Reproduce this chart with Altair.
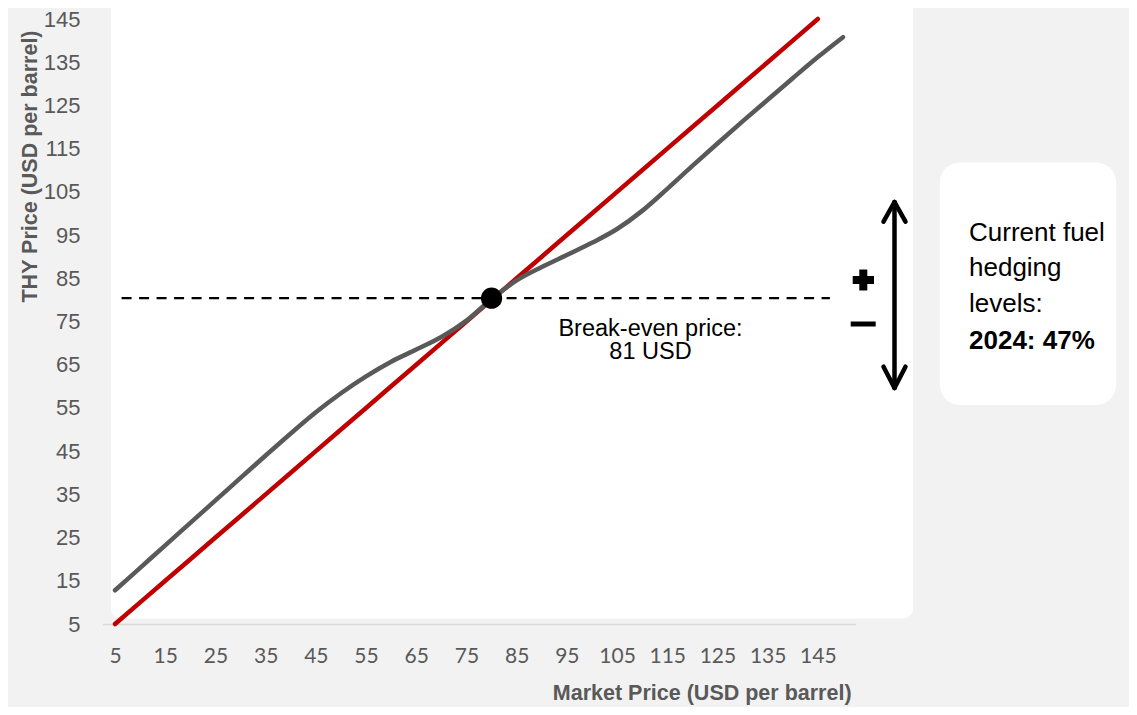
import altair as alt
import pandas as pd

# ---- data ----
market_price = [5, 10, 15, 20, 25, 30, 35, 40, 45, 50, 55, 60, 65, 70, 75,
                80, 85, 90, 95, 100, 105, 110, 115, 120, 125, 130, 135, 140, 145, 150]
thy_price = [12.8, 18.0, 23.2, 28.4, 33.6, 38.8, 44.0, 49.1, 54.0, 58.4, 62.3, 65.7, 68.5, 71.4, 75.2,
             80.2, 84.5, 87.6, 90.4, 93.2, 96.4, 100.6, 105.7, 111.0, 116.2, 121.3, 126.3, 131.3, 136.2, 140.8]
unhedged_x = [5, 10, 15, 20, 25, 30, 35, 40, 45, 50, 55, 60, 65, 70, 75,
              80, 85, 90, 95, 100, 105, 110, 115, 120, 125, 130, 135, 140, 145]
unhedged_y = [5, 10, 15, 20, 25, 30, 35, 40, 45, 50, 55, 60, 65, 70, 75,
              80, 85, 90, 95, 100, 105, 110, 115, 120, 125, 130, 135, 140, 145]
x_tick_values = [5, 15, 25, 35, 45, 55, 65, 75, 85, 95, 105, 115, 125, 135, 145]
y_tick_values = [5, 15, 25, 35, 45, 55, 65, 75, 85, 95, 105, 115, 125, 135, 145]
breakeven_x = [80]
breakeven_y = [80.4]
dash_start = [6.3]
dash_end = [147.4]
box_lines = ["Current fuel", "hedging", "levels:", "2024: 47%"]

gray_df = pd.DataFrame({"market": market_price, "thy": thy_price})
red_df = pd.DataFrame({"market": unhedged_x, "thy": unhedged_y})
be_df = pd.DataFrame({"market": breakeven_x, "thy": breakeven_y})
dash_df = pd.DataFrame({"market": dash_start, "market_end": dash_end, "thy": breakeven_y})
dummy = pd.DataFrame({"a": [0]})

FONT = "Liberation Sans"
GRAY_TXT = "#595959"

TOP = 11.0          # chart-space y of the plot top
H = 605.0           # plot height (bottom stays at chart y 616)
x_scale = alt.Scale(domain=[2.5, 152.5], nice=False, zero=False)
y_scale = alt.Scale(domain=[5, 145], nice=False, zero=False)

x_axis = alt.Axis(values=x_tick_values, title="Market Price (USD per barrel)", grid=False,
                  ticks=False, tickSize=0, domain=True, domainColor="#D9D9D9", domainWidth=1.5,
                  labelFont="Lato", labelFontSize=21, labelColor=GRAY_TXT, labelPadding=38.2,
                  labelBaseline="alphabetic", labelFlush=False, labelOverlap=False,
                  titleFont=FONT, titleFontSize=21.5, titleFontWeight="bold", titleColor=GRAY_TXT,
                  titleX=599.2, titleY=69.5, titleAlign="center", titleBaseline="middle")
y_axis = alt.Axis(values=y_tick_values, title="THY Price (USD per barrel)", grid=False,
                  ticks=False, tickSize=0, domain=False,
                  labelFont=FONT, labelFontSize=22, labelColor=GRAY_TXT, labelPadding=22.5,
                  labelBaseline="middle", labelFlush=False, labelOverlap=False,
                  titleFont=FONT, titleFontSize=21.5, titleFontWeight="bold", titleColor=GRAY_TXT,
                  titleAngle=270, titleX=-72.5, titleY=147, titleAlign="center", titleBaseline="middle")

dy = 7.0 - TOP  # offsets so that annotations keep the reference pixel positions

# white rounded panels (decoration)
panel = alt.Chart(dummy).mark_rect(color="white", cornerRadius=10).encode(
    x=alt.value(8.5), x2=alt.value(810.5), y=alt.value(-25), y2=alt.value(603.5 + dy))
box = alt.Chart(dummy).mark_rect(color="white", cornerRadius=20).encode(
    x=alt.value(837.5), x2=alt.value(1013.5), y=alt.value(147.5 + dy), y2=alt.value(390 + dy))

red = alt.Chart(red_df).mark_line(color="#C00000", strokeWidth=4.5, strokeCap="round").encode(
    x=alt.X("market:Q", scale=x_scale, axis=x_axis),
    y=alt.Y("thy:Q", scale=y_scale, axis=y_axis))
gray = alt.Chart(gray_df).mark_line(color="#595959", strokeWidth=4.5, strokeCap="round",
                                    interpolate="monotone").encode(
    x="market:Q", y="thy:Q")
dash = alt.Chart(dash_df).mark_rule(color="black", strokeWidth=2.2, strokeDash=[10, 7.5]).encode(
    x="market:Q", x2="market_end:Q", y="thy:Q")
dot = alt.Chart(be_df).mark_circle(color="black", size=452, opacity=1).encode(
    x="market:Q", y="thy:Q")


def txt(s, x, y, size, weight="normal", align="center", color="black"):
    return alt.Chart(dummy).mark_text(font=FONT, fontSize=size, fontWeight=weight, align=align,
                                      baseline="alphabetic", color=color).encode(
        x=alt.value(x), y=alt.value(y), text=alt.value(s))


def seg(x1, y1, x2, y2, w, cap="round"):
    return alt.Chart(dummy).mark_rule(color="black", strokeWidth=w, strokeCap=cap).encode(
        x=alt.value(x1), y=alt.value(y1), x2=alt.value(x2), y2=alt.value(y2))


annotations = [
    txt("Break-even price:", 548, 320.7 + dy, 23.5),
    txt("81 USD", 548, 344.3 + dy, 23.5),
    txt(box_lines[0], 866.5, 225.7 + dy, 26, align="left"),
    txt(box_lines[1], 866.5, 261.3 + dy, 26, align="left"),
    txt(box_lines[2], 866.5, 297 + dy, 26, align="left"),
    txt(box_lines[3], 866.5, 333.5 + dy, 26, weight="bold", align="left"),
    # plus sign
    seg(750.2, 265 + dy, 771.5, 265 + dy, 8, "butt"),
    seg(760.8, 254.5 + dy, 760.8, 275.5 + dy, 8, "butt"),
    # minus sign
    seg(748.2, 309 + dy, 773.2, 309 + dy, 5, "butt"),
    # double-headed arrow
    seg(792, 187 + dy, 792, 373 + dy, 4.5),
    seg(792, 187 + dy, 781, 206.7 + dy, 4.5),
    seg(792, 187 + dy, 803, 206.7 + dy, 4.5),
    seg(792, 373 + dy, 781, 351.7 + dy, 4.5),
    seg(792, 373 + dy, 803, 351.7 + dy, 4.5),
]

chart = alt.layer(panel, box, dash, red, gray, dot, *annotations).properties(
    width=753, height=H,
    autosize=alt.AutoSizeParams(type="none"),
    padding={"left": 94.5, "top": TOP, "right": 273.5, "bottom": 699 - TOP - H},
    background="#F2F2F2",
).configure_view(strokeWidth=0)

chart.save("out.html", embed_options={"renderer": "svg", "actions": False})
